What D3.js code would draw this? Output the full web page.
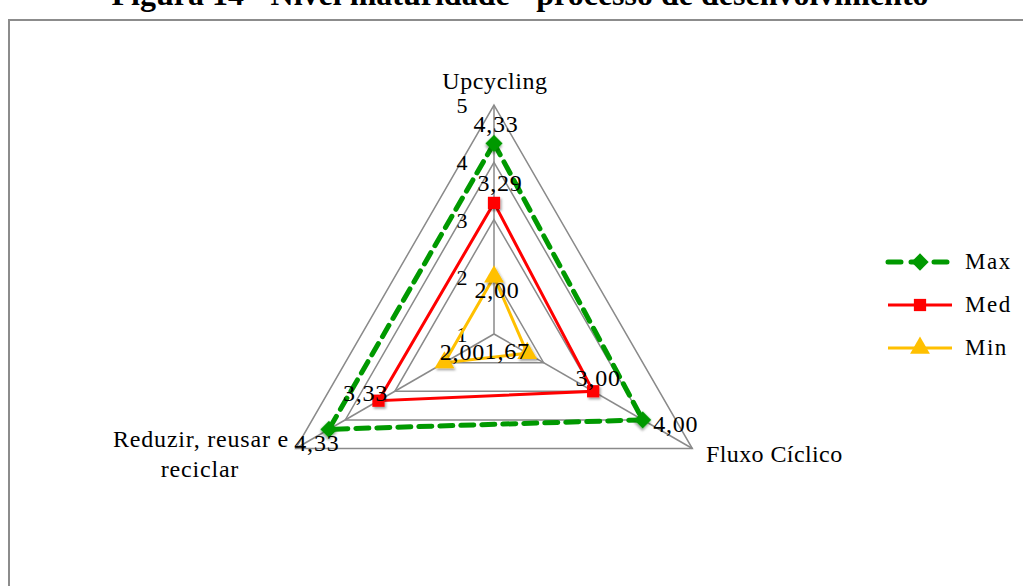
<!DOCTYPE html>
<html>
<head>
<meta charset="utf-8">
<script src="https://cdn.jsdelivr.net/npm/d3@7"></script>
<style>
  body { margin: 0; background: #fff; }
  svg text { font-family: "Liberation Serif", "Times New Roman", serif; }
</style>
</head>
<body>
<svg width="1023" height="586"></svg>
<script>
// dados do gráfico
var eixos = ["Upcycling", "Fluxo Cíclico", "Reduzir, reusar e reciclar"];
var serieMax = [4.33, 4.00, 4.33];
var serieMed = [3.29, 3.00, 3.33];
var serieMin = [2.00, 1.67, 2.00];
var nomesSeries = ["Max", "Med", "Min"];
var ticks = [1, 2, 3, 4, 5];

var series = [
  {nome: "Max", valores: serieMax, cor: "#009900", marca: "diamond", tracejado: "13,8", espessura: 5},
  {nome: "Med", valores: serieMed, cor: "#ff0000", marca: "square", tracejado: null, espessura: 3},
  {nome: "Min", valores: serieMin, cor: "#ffc000", marca: "triangle", tracejado: null, espessura: 3}
];

// deslocamento dos rótulos de dados (por serie / eixo)
var desloc = {
  Max: [[2, -19], [33, 4], [-12, 14]],
  Med: [[6, -20], [5, -13], [-13, -8]],
  Min: [[3, 13], [-20, -2], [18, -11]]
};

var svg = d3.select("svg");

// sombra leve nos marcadores
var f = svg.append("defs").append("filter").attr("id", "sombra")
    .attr("x", "-50%").attr("y", "-50%").attr("width", "200%").attr("height", "200%");
f.append("feDropShadow").attr("dx", 1.5).attr("dy", 2).attr("stdDeviation", 1.2)
    .attr("flood-color", "#000").attr("flood-opacity", 0.35);

// titulo cortado no topo
svg.append("text")
    .attr("x", 520).attr("y", 5)
    .attr("text-anchor", "middle")
    .style("font-size", "32px").style("font-weight", "bold")
    .text("Figura 14 - Nível maturidade - processo de desenvolvimento");

// moldura
svg.append("rect")
    .attr("x", 9).attr("y", 20)
    .attr("width", 1040).attr("height", 600)
    .style("fill", "none").style("stroke", "#8c8c8c").style("stroke-width", 2);

var cx = 494, cy = 334, R = 229;
var r = d3.scaleLinear().domain([1, 5]).range([0, R]);
var angulo = function(i) { return -Math.PI / 2 + i * 2 * Math.PI / eixos.length; };
var ponto = function(v, i) { return [cx + r(v) * Math.cos(angulo(i)), cy + r(v) * Math.sin(angulo(i))]; };

var g = svg.append("g");

// grade
ticks.slice(1).forEach(function(t) {
  g.append("polygon")
      .attr("points", eixos.map(function(e, i) { return ponto(t, i).join(","); }).join(" "))
      .style("fill", "none").style("stroke", "#8a8a8a").style("stroke-width", 1.5);
});
eixos.forEach(function(e, i) {
  var p = ponto(5, i);
  g.append("line")
      .attr("x1", cx).attr("y1", cy).attr("x2", p[0]).attr("y2", p[1])
      .style("stroke", "#8a8a8a").style("stroke-width", 1.5);
});

// rótulos dos ticks
ticks.forEach(function(t) {
  g.append("text")
      .attr("x", cx - 32).attr("y", cy - r(t) + 8)
      .attr("text-anchor", "middle")
      .style("font-size", "22px")
      .text(t);
});

// rótulos dos eixos
g.append("text").attr("x", 495).attr("y", 89).attr("text-anchor", "middle")
    .style("font-size", "24px").style("letter-spacing", "0.6px").text(eixos[0]);
g.append("text").attr("x", 706).attr("y", 462).attr("text-anchor", "start")
    .style("font-size", "24px").style("letter-spacing", "0.4px").text(eixos[1]);
var t3 = g.append("text").attr("text-anchor", "middle")
    .style("font-size", "24px").style("letter-spacing", "0.8px");
t3.append("tspan").attr("x", 201).attr("y", 447).text("Reduzir, reusar e");
t3.append("tspan").attr("x", 200).attr("y", 477).text("reciclar");

// linhas das séries
var linha = d3.line().curve(d3.curveLinearClosed);
var simbolos = {diamond: d3.symbolSquare, square: d3.symbolSquare, triangle: d3.symbolTriangle};
var tamanhos = {diamond: 150, square: 150, triangle: 170};
var rotacao = {diamond: 45, square: 0, triangle: 0};

// desenhar de trás pra frente (Min por baixo)
series.slice().reverse().forEach(function(s) {
  var pts = s.valores.map(ponto);
  g.append("path")
      .attr("d", linha(pts))
      .style("fill", "none")
      .style("stroke", s.cor)
      .style("stroke-width", s.espessura)
      .style("stroke-linecap", s.tracejado ? "round" : "butt")
      .style("stroke-dasharray", s.tracejado);
  pts.forEach(function(p) {
    g.append("path")
        .attr("d", d3.symbol().type(simbolos[s.marca]).size(tamanhos[s.marca])())
        .attr("transform", "translate(" + p[0] + "," + p[1] + ") rotate(" + rotacao[s.marca] + ")")
        .attr("filter", "url(#sombra)")
        .style("fill", s.cor);
  });
});

// rótulos de dados
series.forEach(function(s) {
  s.valores.forEach(function(v, i) {
    var p = ponto(v, i), d = desloc[s.nome][i];
    g.append("text")
        .attr("x", p[0] + d[0]).attr("y", p[1] + d[1] + 8)
        .attr("text-anchor", "middle")
        .style("font-size", "24px").style("letter-spacing", "0.8px")
        .text(d3.format(".2f")(v).replace(".", ","));
  });
});

// legenda
var leg = svg.append("g");
series.forEach(function(s, k) {
  var y = 262 + k * 43;
  leg.append("line")
      .attr("x1", 888).attr("x2", 952).attr("y1", y).attr("y2", y)
      .style("stroke", s.cor).style("stroke-width", s.espessura)
      .style("stroke-linecap", s.tracejado ? "round" : "butt")
      .style("stroke-dasharray", s.tracejado ? "13,10" : null);
  leg.append("path")
      .attr("d", d3.symbol().type(simbolos[s.marca]).size(tamanhos[s.marca])())
      .attr("transform", "translate(920," + y + ") rotate(" + rotacao[s.marca] + ")")
      .style("fill", s.cor);
  leg.append("text")
      .attr("x", 965).attr("y", y + 7)
      .style("font-size", "23px").style("letter-spacing", "1.5px")
      .text(nomesSeries[k]);
});
</script>
</body>
</html>
